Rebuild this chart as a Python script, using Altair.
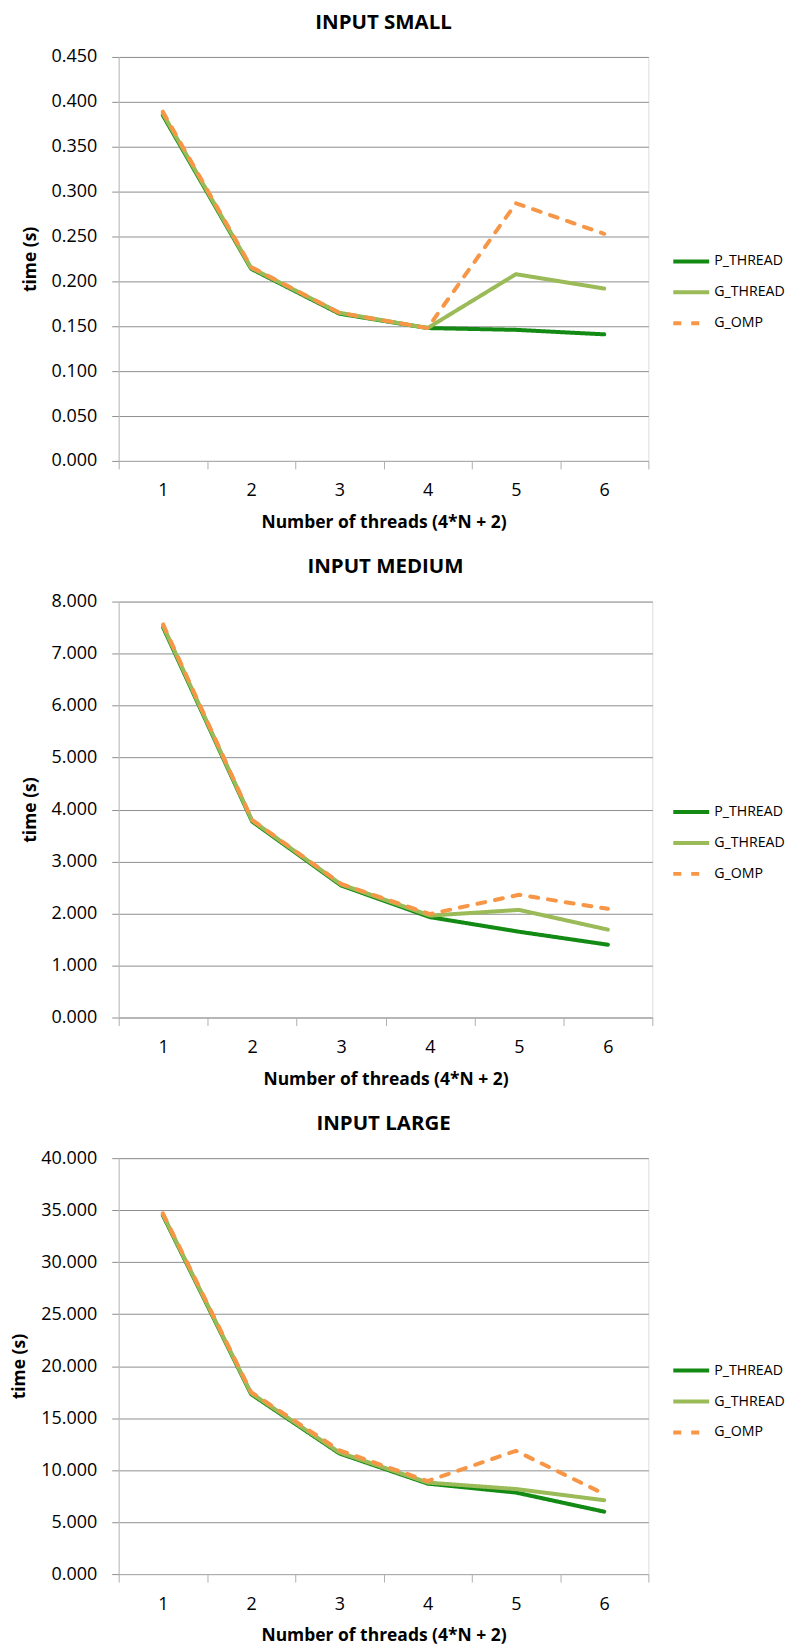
import altair as alt
import pandas as pd

threads = [1, 2, 3, 4, 5, 6]
series = ["P_THREAD", "G_THREAD", "G_OMP"]
colors = ["#138a13", "#9bbb59", "#f79646"]

small_p = [0.385, 0.214, 0.164, 0.148, 0.146, 0.141]
small_g = [0.387, 0.215, 0.165, 0.148, 0.208, 0.192]
small_o = [0.389, 0.216, 0.165, 0.148, 0.287, 0.253]
small_ticks = [0.0, 0.05, 0.1, 0.15, 0.2, 0.25, 0.3, 0.35, 0.4, 0.45]

medium_p = [7.50, 3.77, 2.54, 1.93, 1.65, 1.40]
medium_g = [7.53, 3.79, 2.56, 1.96, 2.07, 1.69]
medium_o = [7.56, 3.80, 2.57, 1.99, 2.36, 2.09]
medium_ticks = [0, 1, 2, 3, 4, 5, 6, 7, 8]

large_p = [34.5, 17.3, 11.6, 8.70, 7.84, 6.00]
large_g = [34.6, 17.4, 11.7, 8.80, 8.18, 7.10]
large_o = [34.7, 17.5, 11.9, 8.95, 11.85, 7.70]
large_ticks = [0, 5, 10, 15, 20, 25, 30, 35, 40]

FONT = "Open Sans"


def make_chart(title, p, g, o, ticks, width, height, lx, ly):
    df = pd.DataFrame({
        "threads": threads * 3,
        "series": [series[0]] * 6 + [series[1]] * 6 + [series[2]] * 6,
        "time": p + g + o,
    })
    leg = alt.Legend(
        title=None, orient="none", legendX=lx, legendY=ly,
        symbolType="stroke", symbolStrokeWidth=4, symbolSize=1296,
        labelFont=FONT, labelFontSize=14.2, labelColor="black",
        labelOffset=3, rowPadding=3,
    )
    return alt.Chart(df).mark_line(strokeWidth=4, strokeCap="round", strokeJoin="round").encode(
        x=alt.X("threads:O",
                scale=alt.Scale(type="band", paddingInner=0, paddingOuter=0),
                axis=alt.Axis(title="Number of threads (4*N + 2)", labelAngle=0,
                              tickBand="extent", grid=False, tickSize=8,
                              tickColor="#b0b0b0", domainColor="#b0b0b0",
                              labelFont=FONT, labelFontSize=18, labelColor="black",
                              labelPadding=13, titleFont=FONT, titleFontSize=17.5,
                              titleFontWeight="bold", titleColor="black",
                              titlePadding=14)),
        y=alt.Y("time:Q",
                scale=alt.Scale(domain=[ticks[0], ticks[-1]], nice=False),
                axis=alt.Axis(title="time (s)", values=ticks, format=".3f",
                              grid=True, gridColor="#8f8f8f", tickSize=7,
                              tickColor="#8f8f8f", domainColor="#c0c0c0",
                              labelFont=FONT, labelFontSize=18, labelColor="black",
                              labelPadding=15, titleFont=FONT, titleFontSize=17.5,
                              titleFontWeight="bold", titleColor="black",
                              titlePadding=12)),
        color=alt.Color("series:N", scale=alt.Scale(domain=series, range=colors), legend=leg),
        strokeDash=alt.StrokeDash("series:N",
                                  scale=alt.Scale(domain=series, range=[[1, 0], [1, 0], [8, 10]]),
                                  legend=leg),
    ).properties(
        width=width, height=height,
        title=alt.Title(title, font=FONT, fontSize=20.5, fontWeight="bold",
                        color="black", anchor="middle", frame="group", offset=15),
    )


c1 = make_chart("INPUT SMALL", small_p, small_g, small_o, small_ticks, 531, 405, 554, 185)
c2 = make_chart("INPUT MEDIUM", medium_p, medium_g, medium_o, medium_ticks, 535, 417, 554, 191)
c3 = make_chart("INPUT LARGE", large_p, large_g, large_o, large_ticks, 531, 417, 554, 193)

chart = alt.vconcat(c1, c2, c3, spacing=141, bounds="flush").resolve_scale(
    x="independent", y="independent", color="independent", strokeDash="independent"
).resolve_legend(
    color="independent", strokeDash="independent"
).properties(
    padding={"left": 10, "top": 10, "right": 0, "bottom": 0}
).configure_view(stroke=None).configure(background="white")

chart.save("out.html", embed_options={"renderer": "svg", "actions": False})
